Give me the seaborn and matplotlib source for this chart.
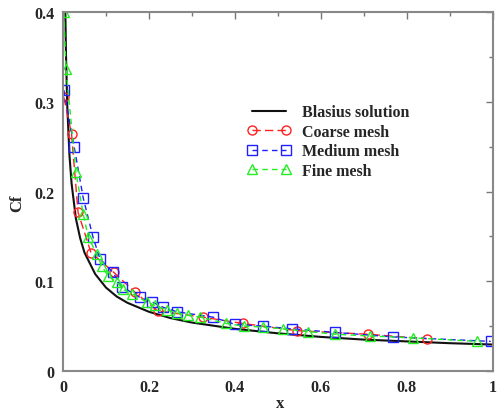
import matplotlib
matplotlib.use("Agg")
import matplotlib.pyplot as plt
import seaborn as sns
from matplotlib.ticker import MultipleLocator

sns.set_style("white")
plt.rcParams['font.family'] = ['Liberation Serif', 'DejaVu Serif']
plt.rcParams['font.weight'] = 'bold'

# Blasius solution
blasius_x = [0.0055, 0.007, 0.01, 0.015, 0.02, 0.03, 0.04, 0.05, 0.075, 0.1, 0.125, 0.15,
             0.2, 0.25, 0.3, 0.4, 0.5, 0.6, 0.7, 0.8, 0.9, 1.0]
blasius_y = [0.400, 0.353, 0.295, 0.241, 0.209, 0.170, 0.148, 0.132, 0.108, 0.093, 0.083, 0.076,
             0.066, 0.059, 0.054, 0.047, 0.042, 0.038, 0.035, 0.033, 0.031, 0.0295]

coarse_x = [0.002, 0.02, 0.035, 0.065, 0.118, 0.167, 0.22, 0.326, 0.418, 0.544, 0.709, 0.846]
coarse_y = [0.305, 0.264, 0.177, 0.132, 0.110, 0.088, 0.067, 0.060, 0.053, 0.045, 0.041, 0.036]

medium_x = [0.002, 0.026, 0.047, 0.070, 0.086, 0.116, 0.137, 0.179, 0.207, 0.233, 0.265, 0.349,
            0.400, 0.465, 0.532, 0.633, 0.767, 0.995]
medium_y = [0.313, 0.250, 0.193, 0.149, 0.125, 0.110, 0.094, 0.082, 0.077, 0.071, 0.066, 0.060,
            0.052, 0.050, 0.047, 0.043, 0.038, 0.033]

fine_x = [0.002, 0.007, 0.030, 0.047, 0.059, 0.079, 0.090, 0.105, 0.125, 0.140, 0.160, 0.195,
          0.214, 0.241, 0.265, 0.290, 0.319, 0.380, 0.420, 0.465, 0.512, 0.570, 0.633, 0.714,
          0.814, 0.963]
fine_y = [0.400, 0.337, 0.222, 0.175, 0.149, 0.130, 0.117, 0.106, 0.099, 0.091, 0.086, 0.077,
          0.073, 0.068, 0.065, 0.062, 0.060, 0.053, 0.050, 0.049, 0.047, 0.044, 0.041, 0.039,
          0.037, 0.033]

fig = plt.figure(figsize=(5.01, 4.14), dpi=100)
ax = fig.add_axes([0.1257, 0.1014, 0.858, 0.8672])

sns.lineplot(x=blasius_x, y=blasius_y, ax=ax, color='#111111', lw=1.5, sort=False,
             label='Blasius solution')
sns.lineplot(x=coarse_x, y=coarse_y, ax=ax, color='#ff2020', lw=1.0, linestyle=(0, (6, 3)),
             marker='o', markersize=6.5, markerfacecolor='none', markeredgecolor='#ff2020',
             markeredgewidth=1.0, sort=False, label='Coarse mesh')
sns.lineplot(x=medium_x, y=medium_y, ax=ax, color='#2020ff', lw=1.0, linestyle=(0, (4, 3)),
             marker='s', markersize=6.5, markerfacecolor='none', markeredgecolor='#2020ff',
             markeredgewidth=1.0, sort=False, label='Medium mesh')
sns.lineplot(x=fine_x, y=fine_y, ax=ax, color='#22ee22', lw=1.0, linestyle=(0, (4, 3)),
             marker='^', markersize=7, markerfacecolor='none', markeredgecolor='#22ee22',
             markeredgewidth=1.0, sort=False, label='Fine mesh')

ax.set_xlim(0, 1)
ax.set_ylim(0, 0.4)
ax.xaxis.set_minor_locator(MultipleLocator(0.1))
ax.yaxis.set_minor_locator(MultipleLocator(0.05))
ax.set_xticks([0, 0.2, 0.4, 0.6, 0.8, 1.0])
ax.set_xticklabels(['0', '0.2', '0.4', '0.6', '0.8', '1'])
ax.set_yticks([0, 0.1, 0.2, 0.3, 0.4])
ax.set_yticklabels(['0', '0.1', '0.2', '0.3', '0.4'])
ax.tick_params(which='both', direction='in', top=True, right=True, color='#777777',
               labelsize=11.5, width=1.0, pad=6)
ax.tick_params(which='major', length=5)
ax.tick_params(which='minor', length=3)
for lab in ax.get_xticklabels() + ax.get_yticklabels():
    lab.set_fontweight('bold')
for s in ax.spines.values():
    s.set_color('#888888')
    s.set_linewidth(1.5)

ax.set_xlabel('x', fontsize=12, fontweight='bold')
ax.set_ylabel('Cf', fontsize=12, fontweight='bold')
ax.xaxis.set_label_coords(0.505, -0.068)
ax.yaxis.set_label_coords(-0.088, 0.47)

leg = ax.legend(loc='upper left', bbox_to_anchor=(0.41, 0.765), frameon=False, numpoints=2,
                handlelength=2.7, handletextpad=0.75, labelspacing=0.22, borderpad=0,
                prop={'family': 'Liberation Serif', 'weight': 'bold', 'size': 11.5})

fig.savefig('out.png', dpi=100, facecolor='white')
